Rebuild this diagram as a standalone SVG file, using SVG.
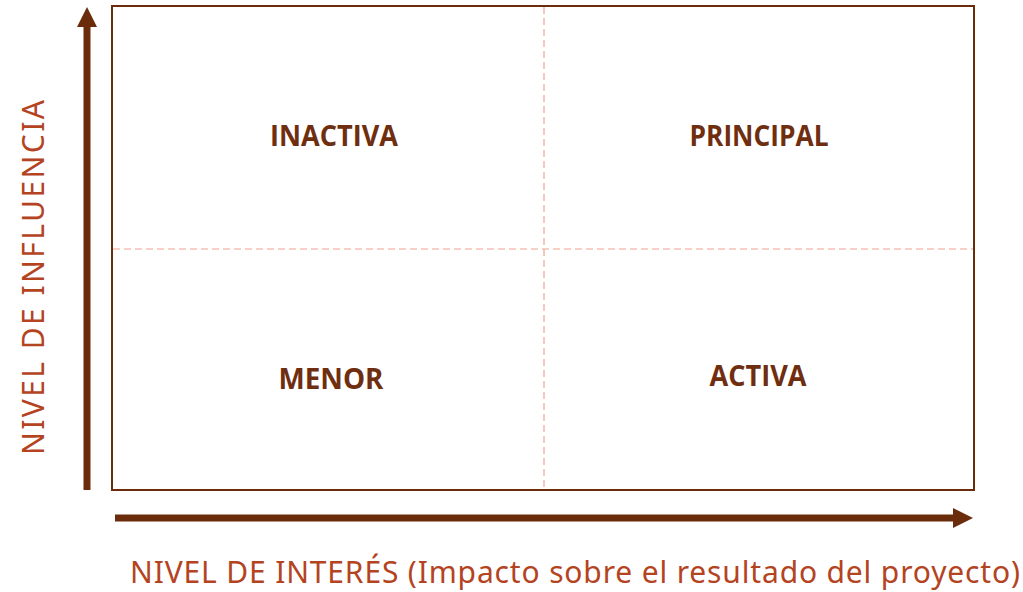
<svg xmlns="http://www.w3.org/2000/svg" width="1023" height="592" viewBox="0 0 1023 592">
<style>
.q{font-family:"Open Sans","Liberation Sans",sans-serif;font-weight:bold;font-size:28px;fill:#6E2E0F;text-anchor:middle}
.ax{font-family:"Noto Sans","Open Sans",sans-serif;font-size:30px;fill:#B4441F}
.dash{stroke:#EFA492;stroke-width:1.2;stroke-dasharray:7 4;fill:none}
.arr{stroke:#6B2C0C;stroke-width:7;fill:none}
</style>
<rect width="1023" height="592" fill="#fff"/>
<g id="quadrants">
<rect x="112" y="6" width="862" height="484" fill="none" stroke="#6B2C0C" stroke-width="2"/>
<line class="dash" x1="544" y1="7" x2="544" y2="489"/>
<line class="dash" x1="113" y1="249" x2="973" y2="249"/>
</g>
<g id="connectors">
<line class="arr" x1="87" y1="490" x2="87" y2="24"/>
<polygon points="77,27 87,7 97,27" fill="#6B2C0C"/>
<line class="arr" x1="115" y1="518" x2="955" y2="518"/>
<polygon points="953,508 973,518 953,528" fill="#6B2C0C"/>
</g>
<g id="inactiva"><text class="q" x="334" y="146" textLength="128" lengthAdjust="spacingAndGlyphs">INACTIVA</text></g>
<g id="principal"><text class="q" x="759" y="146" textLength="139" lengthAdjust="spacingAndGlyphs">PRINCIPAL</text></g>
<g id="menor"><text class="q" x="331" y="389" textLength="105" lengthAdjust="spacingAndGlyphs">MENOR</text></g>
<g id="activa"><text class="q" x="758" y="386" textLength="97" lengthAdjust="spacingAndGlyphs">ACTIVA</text></g>
<g id="y-label"><text class="ax" transform="translate(44,277.5) rotate(-90)" text-anchor="middle" textLength="355">NIVEL DE INFLUENCIA</text></g>
<g id="x-label"><text class="ax" x="575" y="583" text-anchor="middle" textLength="890">NIVEL DE INTERÉS (Impacto sobre el resultado del proyecto)</text></g>
</svg>
